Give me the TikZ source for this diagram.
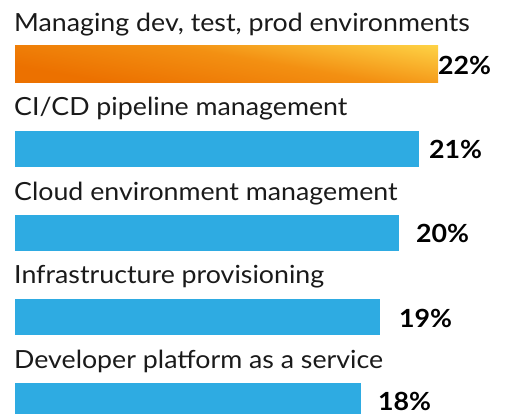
\documentclass[tikz,border=0pt]{standalone}
\usepackage{fontspec}
\usepackage{graphicx}
\setmainfont{Lato}
\definecolor{barblue}{HTML}{2EABE2}
\definecolor{txt}{HTML}{1A1A1A}
\definecolor{og1}{HTML}{EC7100}
\definecolor{og2}{HTML}{F39012}
\definecolor{og3}{HTML}{FFD94A}
\pgfdeclarehorizontalshading{warm}{100bp}{color(0bp)=(og1); color(30bp)=(og1); color(55bp)=(og2); color(82bp)=(og3); color(100bp)=(og3)}
\newcommand{\wide}[1]{\scalebox{1.07}[1]{#1}}
\tikzset{
  lbl/.style={anchor=base west, inner sep=0pt, text=txt, font=\fontsize{25}{28}\selectfont},
  pct/.style={anchor=base west, inner sep=0pt, text=black, font=\fontsize{25}{28}\selectfont\bfseries},
}
\begin{document}
\begin{tikzpicture}[x=1pt,y=-1pt]
\useasboundingbox (0,0) rectangle (505,414);
% bars
\path[shading=warm, shading angle=80] (15,46) rectangle (438,83);
\fill[barblue] (15,131) rectangle (419,167);
\fill[barblue] (15,215) rectangle (399,251);
\fill[barblue] (15,299) rectangle (380,335);
\fill[barblue] (15,383) rectangle (361,420);
% labels
\node[lbl] (l1) at (14,31.7) {\wide{Managing dev, test, prod environments}};
\node[lbl] (l2) at (14,115.5) {\wide{CI/CD pipeline management}};
\node[lbl] (l3) at (14,200) {\wide{Cloud environment management}};
\node[lbl] (l4) at (14,283.5) {\wide{Infrastructure provisioning}};
\node[lbl] (l5) at (14,368) {\wide{Developer platform as a service}};
% percentages
\node[pct] (p1) at (438,74.5) {\wide{22\%}};
\node[pct] (p2) at (429,158.5) {\wide{21\%}};
\node[pct] (p3) at (416,242.5) {\wide{20\%}};
\node[pct] (p4) at (399,327) {\wide{19\%}};
\node[pct] (p5) at (378,410.5) {\wide{18\%}};
\end{tikzpicture}
\end{document}
